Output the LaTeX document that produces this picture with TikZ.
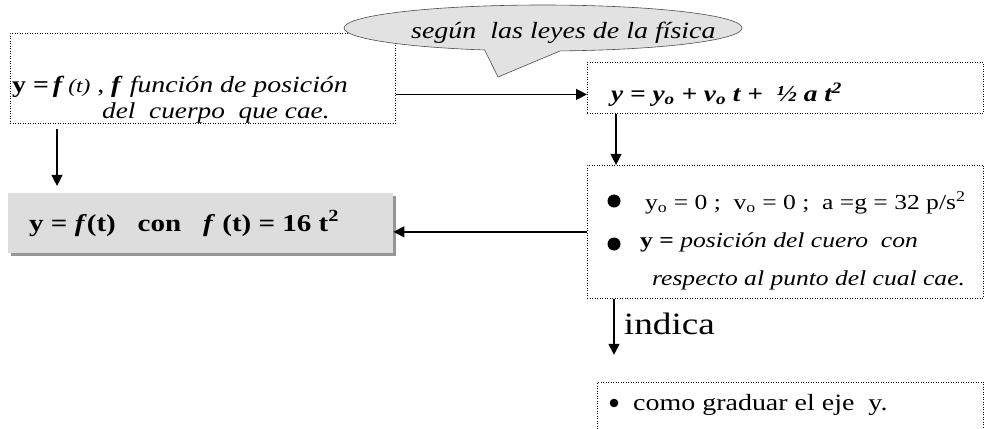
\documentclass[tikz,border=0pt]{standalone}
\usepackage{fontspec}
\setmainfont{Liberation Serif}[FakeStretch=1.2]
\usetikzlibrary{positioning}
\usetikzlibrary{arrows.meta}
\usetikzlibrary{shapes.callouts}
\usetikzlibrary{shadows}

\definecolor{bubblegray}{RGB}{226,226,226}
\definecolor{boxgray}{RGB}{221,221,221}
\definecolor{shadowgray}{RGB}{150,150,150}

\newcommand{\fs}[1]{\fontsize{#1}{#1}\selectfont}

\tikzset{
  dotbox/.style={draw, line width=0.9pt, dash pattern=on 0.9pt off 1.6pt, inner sep=0pt},
  graybox/.style={fill=boxgray, inner sep=0pt, drop shadow={shadow xshift=3pt, shadow yshift=-3pt, fill=shadowgray, opacity=1}},
  txt/.style={anchor=base west, inner sep=0pt},
  flow/.style={line width=1.3pt, -{Triangle[length=11pt,width=11pt]}},
}

\begin{document}
\begin{tikzpicture}[x=1pt, y=-1pt]
  \useasboundingbox (0,0) rectangle (984,428);

  % frames
  \node[dotbox, anchor=north west, minimum width=385pt, minimum height=90pt] (pos) at (10,33) {};
  \node[dotbox, anchor=north west, minimum width=396pt, minimum height=51pt] (ley) at (587,62) {};
  \node[dotbox, below=51pt of ley.south west, anchor=north west, minimum width=396pt, minimum height=133pt] (dat) {};
  \node[dotbox, below=83pt of dat.south west, xshift=10pt, anchor=north west, minimum width=386pt, minimum height=47pt] (eje) {};
  \node[graybox, below=69pt of pos.south west, xshift=-2pt, anchor=north west, minimum width=385pt, minimum height=60pt] (fun) {};

  \node[ellipse callout, draw=black!70, fill=bubblegray, line width=0.6pt, minimum width=398pt, minimum height=46pt,
        callout pointer arc=22, callout absolute pointer={(498,77)}] (ley-bubble) at (543,28) {};

  % texts
  \node[txt, font=\fs{23.2}] (pos-a) at (12,92) {\textbf{y =}\,\textbf{\textit{f}}\,{\fs{19.5}\textit{(t)}}\ , \textbf{\textit{f}}\ \textit{función de posición}};
  \node[txt, font=\fs{22.75}] (pos-b) at (102,118) {\textit{del\ \ cuerpo\ \ que cae.}};
  \node[txt, font=\fs{23.3}\itshape] (ley-txt) at (411,39) {según\ \ las leyes de la física};
  \node[txt, font=\fs{22.75}\bfseries\itshape] (ley-eq) at (611,101) {y = y\textsubscript{o} + v\textsubscript{o} t +\ \ ½ a t\textsuperscript{2}};
  \node[txt, font=\fs{24.2}\bfseries] (fun-eq) at (29,231) {y = \textit{f}(t)\ \ \ con\ \ \ \textit{f} (t) = 16 t\textsuperscript{2}};
  \node[txt, font=\fs{21.3}] (dat-a) at (645,209) {y\textsubscript{o} = 0 ;\ \ v\textsubscript{o} = 0 ;\ \ a =g = 32 p/s\textsuperscript{2}};
  \node[txt, font=\fs{21.3}] (dat-b) at (640,247) {\textbf{y =} \textit{posición del cuero\ \ con}};
  \node[txt, font=\fs{21.3}\itshape] (dat-c) at (652,285) {respecto al punto del cual cae.};
  \node[txt, font=\fs{23.3}] (eje-txt) at (633,410) {como graduar el eje\ \ y.};

  \fill (614,201) circle (6.5pt);
  \fill (614,244) circle (6.5pt);
  \fill (614,403) circle (4.3pt);

  % arrows
  \draw[flow] (pos.east |- ley-eq.west) -- (ley.west |- ley-eq.west);
  \draw[flow, shorten <=5pt, shorten >=7pt] ([xshift=47pt]pos.south west) -- ([xshift=47pt]pos.south west |- fun.north);
  \draw[flow] ([xshift=29pt]ley.south west) -- ([xshift=29pt]dat.north west);
  \draw[flow] (dat.west) -- (dat.west -| fun.east);
  \draw[flow, shorten >=27pt] ([xshift=27pt]dat.south west) -- node[pos=0.3, right=6pt, font=\fs{31}] (indica) {indica} ([xshift=27pt]dat.south west |- eje.north);
\end{tikzpicture}
\end{document}
